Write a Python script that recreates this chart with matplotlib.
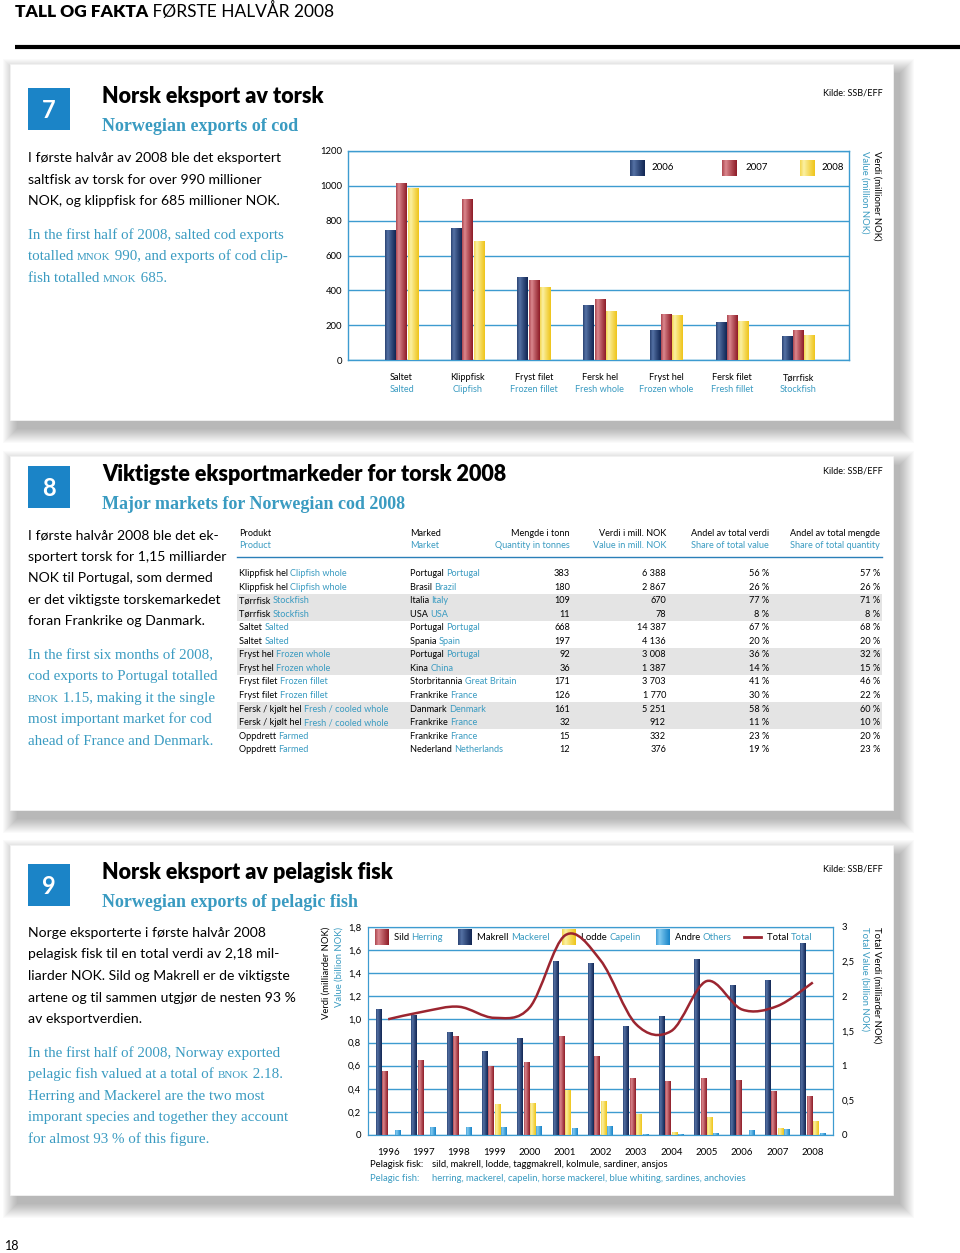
import matplotlib.pyplot as plt
import numpy as np
from matplotlib.patches import Rectangle
from matplotlib.path import Path
from matplotlib.patches import PathPatch
from matplotlib.colors import to_rgb

# chart 7 - cod exports (mill. NOK)
cats7_no = ['Saltet', 'Klippfisk', 'Fryst filet', 'Fersk hel', 'Fryst hel', 'Fersk filet', 'Tørrfisk']
cats7_en = ['Salted', 'Clipfish', 'Frozen fillet', 'Fresh whole', 'Frozen whole', 'Fresh fillet', 'Stockfish']
val_2006 = [745, 757, 478, 318, 171, 218, 137]
val_2007 = [1015, 927, 460, 353, 262, 256, 175]
val_2008 = [990, 685, 418, 283, 258, 222, 141]

# chart 8 - table
prod_no = ['Klippfisk hel', 'Klippfisk hel', 'Tørrfisk', 'Tørrfisk', 'Saltet', 'Saltet', 'Fryst hel', 'Fryst hel',
           'Fryst filet', 'Fryst filet', 'Fersk / kjølt hel', 'Fersk / kjølt hel', 'Oppdrett', 'Oppdrett']
prod_en = ['Clipfish whole', 'Clipfish whole', 'Stockfish', 'Stockfish', 'Salted', 'Salted', 'Frozen whole',
           'Frozen whole', 'Frozen fillet', 'Frozen fillet', 'Fresh / cooled whole', 'Fresh / cooled whole',
           'Farmed', 'Farmed']
mkt_no = ['Portugal', 'Brasil', 'Italia', 'USA', 'Portugal', 'Spania', 'Portugal', 'Kina', 'Storbritannia',
          'Frankrike', 'Danmark', 'Frankrike', 'Frankrike', 'Nederland']
mkt_en = ['Portugal', 'Brazil', 'Italy', 'USA', 'Portugal', 'Spain', 'Portugal', 'China', 'Great Britain',
          'France', 'Denmark', 'France', 'France', 'Netherlands']
qty = ['383', '180', '109', '11', '668', '197', '92', '36', '171', '126', '161', '32', '15', '12']
value = ['6 388', '2 867', '670', '78', '14 387', '4 136', '3 008', '1 387', '3 703', '1 770', '5 251', '912',
         '332', '376']
share_val = ['56 %', '26 %', '77 %', '8 %', '67 %', '20 %', '36 %', '14 %', '41 %', '30 %', '58 %', '11 %',
             '23 %', '19 %']
share_qty = ['57 %', '26 %', '71 %', '8 %', '68 %', '20 %', '32 %', '15 %', '46 %', '22 %', '60 %', '10 %',
             '20 %', '23 %']

# chart 9 - pelagic fish (billion NOK)
years = ['1996', '1997', '1998', '1999', '2000', '2001', '2002', '2003', '2004', '2005', '2006', '2007', '2008']
sild = [0.55, 0.65, 0.86, 0.60, 0.63, 0.86, 0.68, 0.49, 0.47, 0.49, 0.48, 0.38, 0.34]
makrell = [1.09, 1.04, 0.89, 0.73, 0.84, 1.51, 1.49, 0.94, 1.03, 1.52, 1.30, 1.34, 1.66]
lodde = [0, 0, 0, 0.27, 0.28, 0.39, 0.29, 0.18, 0.03, 0.16, 0, 0.06, 0.12]
andre = [0.04, 0.07, 0.07, 0.07, 0.08, 0.06, 0.08, 0.01, 0.01, 0.02, 0.04, 0.05, 0.02]
total = [1.67, 1.78, 1.85, 1.69, 1.84, 2.88, 2.52, 1.60, 1.50, 2.22, 1.81, 1.86, 2.20]

SANS = ['Lato', 'DejaVu Sans']
SERIF = ['Liberation Serif', 'DejaVu Serif']
TEAL = '#3a9bc1'
GRID = '#3d9bd0'
SQUARE = '#1b84c7'
NAVY = ('#5673a6', '#112654')
RED = ('#dd8a90', '#8e1c27')
YEL = ('#fbf1a6', '#efc51a')
BLUE = ('#86cdf2', '#1884c8')

fig = plt.figure(figsize=(9.6, 12.53), dpi=100)
bg = fig.add_axes([0, 0, 1, 1])
bg.set_xlim(0, 960)
bg.set_ylim(1253, 0)
bg.axis('off')


def grad_img(cols):
    light = np.array(to_rgb(cols[0]))
    dark = np.array(to_rgb(cols[1]))
    t = np.linspace(0, 1, 40)
    g = np.clip(np.abs(t - 0.25) / 0.75, 0, 1) ** 0.9
    g[t < 0.25] = g[t < 0.25] * 1.6
    g = np.clip(g, 0, 1)
    return (light[None, :] * (1 - g[:, None]) + dark[None, :] * g[:, None])[None, :, :]


def shade_bars(ax, bars, cols):
    img = grad_img(cols)
    for b in bars:
        x, y = b.get_x(), b.get_y()
        w, h = b.get_width(), b.get_height()
        if h <= 0:
            continue
        im = ax.imshow(img, extent=[x, x + w, y, y + h], aspect='auto', zorder=b.get_zorder() + 0.1,
                       interpolation='bilinear')
        im.set_clip_path(b)


def bg_patch(x0, y0, x1, y1, cols):
    r = Rectangle((x0, y0), x1 - x0, y1 - y0, facecolor=cols[1], edgecolor='none', zorder=5)
    bg.add_patch(r)
    im = bg.imshow(grad_img(cols), extent=[x0, x1, y1, y0], aspect='auto', zorder=5.1,
                   interpolation='bilinear')
    im.set_clip_path(r)


def rich(x, y, parts, **kw):
    # parts: (text, dict of extra kwargs); chained on one baseline
    prev = None
    for s, extra in parts:
        opts = dict(kw)
        opts.update(extra)
        if prev is None:
            prev = bg.text(x, y, s, ha='left', va='baseline', zorder=6, **opts)
        else:
            prev = bg.annotate(s, xy=(1, y), xycoords=(prev, 'data'), ha='left', va='baseline',
                               zorder=6, **opts)
    return prev


def card(y0, y1, sq, num, title, subtitle):
    x0, x1 = 10, 893
    for s in range(14, -1, -1):
        bg.add_patch(Rectangle((x0 + 7 - s, y0 + 9 - s), (x1 - x0) + 2 * s, (y1 - y0) + 2 * s,
                               facecolor='black', alpha=0.02, edgecolor='none', zorder=1))
    bg.add_patch(Rectangle((x0, y0), x1 - x0, y1 - y0, facecolor='white', edgecolor='#f2f2f2',
                           lw=0.6, zorder=2))
    bg.add_patch(Rectangle((28, sq), 42, 42, facecolor=SQUARE, edgecolor='none', zorder=3))
    bg.text(49, sq + 22, num, color='white', fontsize=17, fontweight='bold', family=SANS,
            ha='center', va='center', zorder=4)
    bg.text(102, sq + 15, title, fontsize=15.5, fontweight='heavy', family=SANS, ha='left',
            va='baseline', zorder=4)
    bg.text(102, sq + 43, subtitle, fontsize=13, fontweight='bold', family=SERIF, color=TEAL,
            ha='left', va='baseline', zorder=4)
    bg.text(883, sq + 7, 'Kilde: SSB/EFF', fontsize=6.5, family=SANS, ha='right', va='baseline',
            zorder=4)


def body(x, ys, lines, serif=False):
    for y, ln in zip(ys, lines):
        if serif:
            parts = []
            for i, seg in enumerate(ln.split('|')):
                if i % 2 == 1:
                    parts.append((seg, {'fontsize': 7.9}))
                else:
                    parts.append((seg, {}))
            rich(x, y, parts, fontsize=10.8, family=SERIF, color=TEAL)
        else:
            bg.text(x, y, ln, fontsize=10.1, family=SANS, ha='left', va='baseline', zorder=6)


# page header
rich(15, 17, [('TALL OG FAKTA', {'fontweight': 'heavy'}), (' FØRSTE HALVÅR 2008', {'fontweight': 'normal'})],
     fontsize=12.5, family=SANS, color='black')
bg.plot([15, 960], [47, 47], color='black', lw=3, zorder=3, solid_capstyle='butt')
bg.text(5, 1250, '18', fontsize=9, family=SANS, ha='left', va='baseline')

# ---------------- card 7 ----------------
card(64, 420, 88, '7', 'Norsk eksport av torsk', 'Norwegian exports of cod')
body(28, [162, 184, 205], ['I første halvår av 2008 ble det eksportert',
                           'saltfisk av torsk for over 990 millioner',
                           'NOK, og klippfisk for 685 millioner NOK.'])
body(28, [239, 260, 282], ['In the first half of 2008, salted cod exports',
                           'totalled |MNOK| 990, and exports of cod clip-',
                           'fish totalled |MNOK| 685.'], serif=True)


def px_axes(x0, y0, x1, y1):
    return fig.add_axes([x0 / 960, 1 - y1 / 1253, (x1 - x0) / 960, (y1 - y0) / 1253])


ax7 = px_axes(348, 151, 849, 360)
ax7.set_zorder(10)
ax7.patch.set_alpha(0)
x7 = np.arange(len(cats7_no))
bw = 0.17
for off, vals, cols in [(-bw, val_2006, NAVY), (0, val_2007, RED), (bw, val_2008, YEL)]:
    bars = ax7.bar(x7 + off, vals, bw * 0.92, color=cols[1], zorder=3)
    shade_bars(ax7, bars, cols)
ax7.set_xlim(-0.81, 6.77)
ax7.set_ylim(0, 1200)
ax7.set_yticks(range(0, 1201, 200))
ax7.set_yticklabels([str(v) for v in range(0, 1201, 200)], fontsize=6.8, family=SANS)
ax7.grid(axis='y', color=GRID, lw=1, zorder=0)
ax7.set_xticks([])
ax7.tick_params(axis='y', length=0, pad=4)
for sp in ax7.spines.values():
    sp.set_color(GRID)
    sp.set_linewidth(1)
tr = ax7.get_xaxis_transform()
for i in x7:
    ax7.text(i, -0.085, cats7_no[i], transform=tr, ha='center', va='center', fontsize=6.6, family=SANS)
    ax7.text(i, -0.142, cats7_en[i], transform=tr, ha='center', va='center', fontsize=6.6, family=SANS,
             color=TEAL)
ax7.text(1.056, 1.0, 'Verdi (millioner NOK)', transform=ax7.transAxes, rotation=270, ha='center',
         va='top', fontsize=6.8, family=SANS)
ax7.text(1.032, 1.0, 'Value (million NOK)', transform=ax7.transAxes, rotation=270, ha='center',
         va='top', fontsize=6.8, family=SANS, color=TEAL)
for x0, lab, cols in [(630, '2006', NAVY), (722, '2007', RED), (800, '2008', YEL)]:
    bg_patch(x0, 160, x0 + 15, 176, cols)
for x0, lab in [(652, '2006'), (745, '2007'), (822, '2008')]:
    bg.text(x0, 168, lab, fontsize=7, family=SANS, ha='left', va='center', zorder=20)

# ---------------- card 8 ----------------
card(456, 810, 466, '8', 'Viktigste eksportmarkeder for torsk 2008', 'Major markets for Norwegian cod 2008')
body(28, [539, 561, 582, 604, 625], ['I første halvår 2008 ble det ek-',
                                     'sportert torsk for 1,15 milliarder',
                                     'NOK til Portugal, som dermed',
                                     'er det viktigste torskemarkedet',
                                     'foran Frankrike og Danmark.'])
body(28, [659, 680, 702, 723, 745], ['In the first six months of 2008,',
                                     'cod exports to Portugal totalled',
                                     '|BNOK| 1.15, making it the single',
                                     'most important market for cod',
                                     'ahead of France and Denmark.'], serif=True)

TS = 6.6
hdr = [(239, 'left', 'Produkt', 'Product'), (410, 'left', 'Marked', 'Market'),
       (570, 'right', 'Mengde i tonn', 'Quantity in tonnes'), (666, 'right', 'Verdi i mill. NOK', 'Value in mill. NOK'),
       (769, 'right', 'Andel av total verdi', 'Share of total value'),
       (880, 'right', 'Andel av total mengde', 'Share of total quantity')]
for x, ha, no, en in hdr:
    bg.text(x, 533, no, fontsize=TS, family=SANS, ha=ha, va='center', zorder=6)
    bg.text(x, 546, en, fontsize=TS, family=SANS, ha=ha, va='center', color=TEAL, zorder=6)
bg.plot([237, 882], [557, 557], color='#2a7fb8', lw=1, zorder=6)
row0, step = 573.5, 13.55
for i in range(len(prod_no)):
    y = row0 + i * step
    if i in (2, 3, 6, 7, 10, 11):
        bg.add_patch(Rectangle((237, y - step / 2), 645, step, facecolor='#e4e4e4', edgecolor='none', zorder=3))
    rich(239, y + 2.6, [(prod_no[i] + ' ', {}), (prod_en[i], {'color': TEAL})], fontsize=TS, family=SANS)
    rich(410, y + 2.6, [(mkt_no[i] + ' ', {}), (mkt_en[i], {'color': TEAL})], fontsize=TS, family=SANS)
    for x, v in [(570, qty[i]), (666, value[i]), (769, share_val[i]), (880, share_qty[i])]:
        bg.text(x, y + 2.6, v, fontsize=TS, family=SANS, ha='right', va='baseline', zorder=6)

# ---------------- card 9 ----------------
card(845, 1195, 864, '9', 'Norsk eksport av pelagisk fisk', 'Norwegian exports of pelagic fish')
body(28, [937, 958, 980, 1002, 1023], ['Norge eksporterte i første halvår 2008',
                                       'pelagisk fisk til en total verdi av 2,18 mil-',
                                       'liarder NOK. Sild og Makrell er de viktigste',
                                       'artene og til sammen utgjør de nesten 93 %',
                                       'av eksportverdien.'])
body(28, [1057, 1078, 1100, 1121, 1143], ['In the first half of 2008, Norway exported',
                                          'pelagic fish valued at a total of |BNOK| 2.18.',
                                          'Herring and Mackerel are the two most',
                                          'imporant species and together they account',
                                          'for almost 93 % of this figure.'], serif=True)

ax9 = px_axes(368, 927, 833, 1135)
ax9.set_zorder(10)
ax9.patch.set_alpha(0)
x9 = np.arange(len(years))
w9 = 0.18
for off, vals, cols in [(-1.5 * w9, makrell, NAVY), (-0.5 * w9, sild, RED), (0.5 * w9, lodde, YEL),
                        (1.5 * w9, andre, BLUE)]:
    bars = ax9.bar(x9 + off, vals, w9 * 0.9, color=cols[1], zorder=3)
    shade_bars(ax9, bars, cols)
ax9.set_xlim(-0.57, 12.57)
ax9.set_ylim(0, 1.8)
lt = np.round(np.arange(0, 1.81, 0.2), 1)
ax9.set_yticks(lt)
ax9.set_yticklabels(['0'] + [('%.1f' % v).replace('.', ',') for v in lt[1:]], fontsize=6.8, family=SANS)
ax9.grid(axis='y', color=GRID, lw=1, zorder=0)
ax9.set_xticks([])
ax9.tick_params(axis='y', length=0, pad=5)
for sp in ax9.spines.values():
    sp.set_color(GRID)
tr9 = ax9.get_xaxis_transform()
for i in x9:
    ax9.text(i, -0.085, years[i], transform=tr9, ha='center', va='center', fontsize=7, family=SANS)

axr = ax9.twinx()
axr.set_ylim(0, 3)
rt = [0, 0.5, 1, 1.5, 2, 2.5, 3]
axr.set_yticks(rt)
axr.set_yticklabels(['0', '0,5', '1', '1,5', '2', '2,5', '3'], fontsize=6.8, family=SANS)
axr.tick_params(axis='y', length=0, pad=6)
for sp in axr.spines.values():
    sp.set_color(GRID)

# smooth total line: Catmull-Rom segments drawn as cubic Bezier curves
pts = np.column_stack([x9, total]).astype(float)
verts = [pts[0]]
codes = [Path.MOVETO]
for i in range(len(pts) - 1):
    p0 = pts[i - 1] if i > 0 else pts[i]
    p1, p2 = pts[i], pts[i + 1]
    p3 = pts[i + 2] if i + 2 < len(pts) else pts[i + 1]
    verts += [p1 + (p2 - p0) / 6, p2 - (p3 - p1) / 6, p2]
    codes += [Path.CURVE4] * 3
axr.add_patch(PathPatch(Path(verts, codes), facecolor='none', edgecolor='#9b2530', lw=1.8, zorder=5))

ax9.text(-0.09, 1.0, 'Verdi (milliarder NOK)', transform=ax9.transAxes, rotation=90, ha='center',
         va='top', fontsize=6.8, family=SANS)
ax9.text(-0.062, 1.0, 'Value (billion NOK)', transform=ax9.transAxes, rotation=90, ha='center',
         va='top', fontsize=6.8, family=SANS, color=TEAL)
ax9.text(1.095, 1.0, 'Total Verdi (milliarder NOK)', transform=ax9.transAxes, rotation=270, ha='center',
         va='top', fontsize=6.8, family=SANS)
ax9.text(1.069, 1.0, 'Total Value (billion NOK)', transform=ax9.transAxes, rotation=270, ha='center',
         va='top', fontsize=6.8, family=SANS, color=TEAL)

leg = [(375, 'Sild', 'Herring', RED), (458, 'Makrell', 'Mackerel', NAVY), (562, 'Lodde', 'Capelin', YEL),
       (656, 'Andre', 'Others', BLUE)]
for x0, no, en, cols in leg:
    bg_patch(x0, 929, x0 + 14, 945, cols)
    rich(x0 + 19, 940, [(no + ' ', {}), (en, {'color': TEAL})], fontsize=6.8, family=SANS)
bg.plot([744, 761], [937, 937], color='#9b2530', lw=2, zorder=6)
rich(767, 940, [('Total ', {}), ('Total', {'color': TEAL})], fontsize=6.8, family=SANS)

bg.text(370, 1167, 'Pelagisk fisk:', fontsize=6.8, family=SANS, ha='left', va='baseline', zorder=6)
bg.text(432, 1167, 'sild, makrell, lodde, taggmakrell, kolmule, sardiner, ansjos', fontsize=6.8, family=SANS,
        ha='left', va='baseline', zorder=6)
bg.text(370, 1181, 'Pelagic fish:', fontsize=6.8, family=SANS, ha='left', va='baseline', zorder=6,
        color=TEAL)
bg.text(432, 1181, 'herring, mackerel, capelin, horse mackerel, blue whiting, sardines, anchovies',
        fontsize=6.8, family=SANS, ha='left', va='baseline', zorder=6, color=TEAL)

bg.set_xlim(0, 960)
bg.set_ylim(1253, 0)
fig.savefig('out.png', dpi=100)
